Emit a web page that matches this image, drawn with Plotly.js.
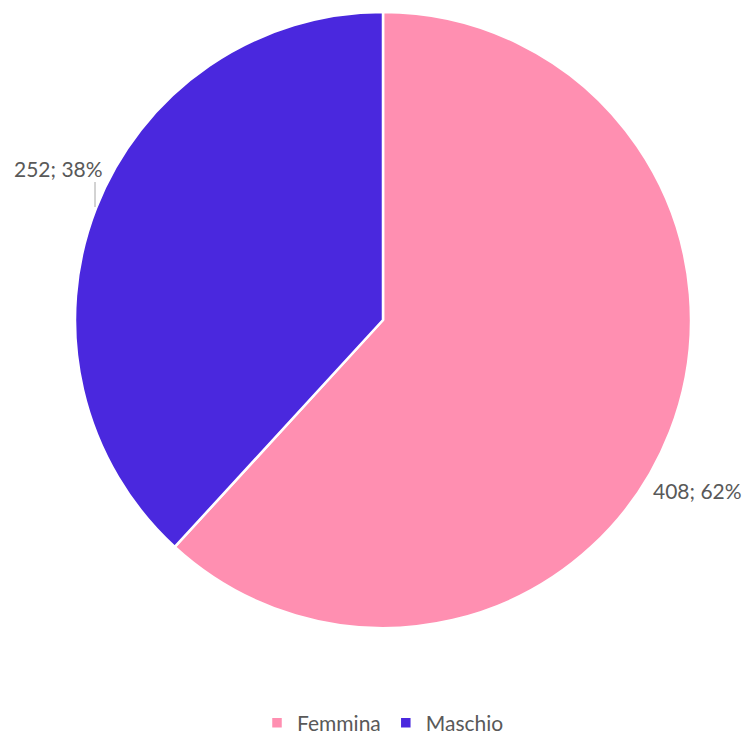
<!DOCTYPE html>
<html>
<head>
<meta charset="utf-8">
<script src="https://cdn.plot.ly/plotly-3.0.1.min.js"></script>
<style>html,body{margin:0;padding:0;background:#fff;}</style>
</head>
<body>
<div id="chart" style="width:747px;height:741px;"></div>
<script>
const categories = ["Femmina", "Maschio"];
const counts = [408, 252];
const colors = ["#FF8FB1", "#4A28DE"];

const total = counts.reduce((a, b) => a + b, 0);
const labelTexts = counts.map(v => v + "; " + Math.round(v / total * 100) + "%");

// label placement (layout only, paper coords)
const labelPos = [
  { x: (652 - 75) / 616, y: (628 - 490) / 616 },
  { x: (13 - 75) / 616, y: (628 - 168) / 616 }
];

const trace = {
  type: "pie",
  labels: categories,
  values: counts,
  sort: false,
  direction: "clockwise",
  rotation: 0,
  marker: { colors: colors, line: { color: "#FFFFFF", width: 2.5 } },
  textinfo: "none",
  hoverinfo: "label+value+percent",
  automargin: false
};

const labelFont = { family: "Lato, 'Open Sans', sans-serif", size: 21, color: "#595959" };

const layout = {
  width: 747,
  height: 741,
  margin: { l: 75, r: 56, t: 12, b: 113 },
  paper_bgcolor: "#FFFFFF",
  showlegend: true,
  legend: {
    orientation: "h",
    xref: "paper", yref: "container",
    x: 0.5, xanchor: "center",
    y: 0.024, yanchor: "middle",
    font: { family: "Lato, 'Open Sans', sans-serif", size: 21, color: "#595959" },
    traceorder: "normal"
  },
  annotations: labelTexts.map((t, i) => ({
    text: t,
    xref: "paper", yref: "paper",
    x: labelPos[i].x, y: labelPos[i].y,
    xanchor: "left", yanchor: "middle",
    showarrow: false,
    borderpad: 0,
    font: labelFont
  })),
  shapes: [
    { type: "line", xref: "paper", yref: "paper",
      x0: (95 - 75) / 616, x1: (95 - 75) / 616,
      y0: (628 - 182) / 616, y1: (628 - 207) / 616,
      line: { color: "#A6A6A6", width: 1 } }
  ]
};

Plotly.newPlot("chart", [trace], layout, { displayModeBar: false, staticPlot: true });
</script>
</body>
</html>
